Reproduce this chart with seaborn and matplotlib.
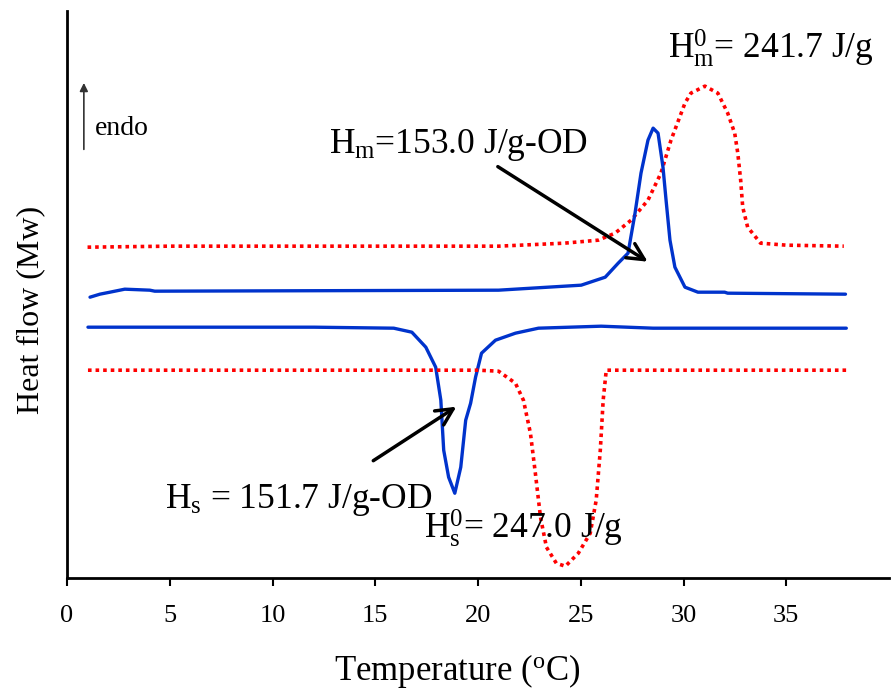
import matplotlib
matplotlib.use('Agg')
import matplotlib.pyplot as plt
import seaborn as sns

# DSC traces (temperature in C, heat flow in arbitrary units)
red_heat_T = [1.0, 5.0, 10.0, 15.0, 21.0, 24.2, 25.85, 26.67, 27.45, 28.27, 28.9,
              29.39, 30.07, 30.36, 31.04, 31.67, 32.15, 32.49, 32.64, 32.78, 32.88,
              33.12, 33.75, 35.0, 37.8]
red_heat_Q = [331, 332, 332, 332, 332, 335, 338, 345, 358, 378, 405,
              438, 475, 485, 492, 485, 465, 445, 425, 398, 371,
              351, 335, 333, 332]

blue_heat_T = [1.12, 1.6, 2.09, 2.81, 4.03, 4.27, 21.0, 22.6, 25.02, 26.19, 26.82,
               27.3, 27.64, 27.93, 28.27, 28.52, 28.76, 29.0, 29.15, 29.34, 29.58,
               30.07, 30.7, 32.0, 32.15, 37.88]
blue_heat_Q = [281, 284, 286, 289, 288, 287, 288, 290, 293, 301, 315,
               325, 365, 405, 438, 450, 445, 411, 378, 338, 311,
               291, 286, 286, 285, 284]

blue_cool_T = [1.02, 12.03, 15.9, 16.78, 17.46, 17.94, 18.19, 18.33, 18.57, 18.87,
               19.16, 19.4, 19.64, 19.88, 20.17, 20.85, 21.82, 22.94, 25.99, 28.52,
               37.92]
blue_cool_Q = [251, 251, 250, 246, 231, 211, 178, 128, 101, 85,
               111, 158, 175, 201, 225, 238, 245, 250, 252, 250,
               250]

red_cool_T = [1.02, 20.03, 21.0, 21.82, 22.21, 22.55, 22.79, 23.04, 23.33, 23.81,
              24.25, 24.88, 25.46, 25.75, 25.95, 26.09, 26.24, 37.92]
red_cool_Q = [208, 208, 207, 195, 178, 145, 105, 61, 31, 15,
              12, 25, 45, 78, 128, 178, 208, 208]

sns.set_style('white')
plt.rcParams['font.family'] = ['Liberation Serif', 'DejaVu Serif']
plt.rcParams['mathtext.fontset'] = 'custom'
plt.rcParams['mathtext.rm'] = 'Liberation Serif'
plt.rcParams['mathtext.it'] = 'Liberation Serif:italic'
plt.rcParams['text.color'] = 'black'
plt.rcParams['axes.labelcolor'] = 'black'
plt.rcParams['xtick.color'] = 'black'

fig = plt.figure(figsize=(8.91, 6.95), dpi=100)
ax = fig.add_axes([0.0752, 0.168, 0.9226, 0.816])

blue = '#0033cc'
red = '#ff0000'
sns.lineplot(x=red_heat_T, y=red_heat_Q, ax=ax, color=red, lw=2.6,
             linestyle=(0, (1, 1.1)), estimator=None)
sns.lineplot(x=blue_heat_T, y=blue_heat_Q, ax=ax, color=blue, lw=2.4,
             estimator=None)
sns.lineplot(x=blue_cool_T, y=blue_cool_Q, ax=ax, color=blue, lw=2.4,
             estimator=None)
sns.lineplot(x=red_cool_T, y=red_cool_Q, ax=ax, color=red, lw=2.6,
             linestyle=(0, (1, 1.1)), estimator=None)

ax.set_xlim(0, 40)
ax.set_ylim(0, 567)
ax.set_xticks(range(0, 40, 5))
ax.set_yticks([])
ax.tick_params(axis='x', direction='out', length=6, width=1.5, labelsize=19,
               pad=13, bottom=True, labelcolor='black')
for s in ['top', 'right']:
    ax.spines[s].set_visible(False)
for s in ['left', 'bottom']:
    ax.spines[s].set_color('black')
    ax.spines[s].set_linewidth(2)

ax.set_xlabel('Temperature ($^{\\mathrm{o}}$C)', fontsize=25)
ax.xaxis.set_label_coords(0.474, -0.13)
ax.set_ylabel('Heat flow (Mw)', fontsize=23)
ax.yaxis.set_label_coords(-0.027, 0.473)

# endo arrow
ax.annotate('', xy=(0.82, 498), xytext=(0.82, 426),
            arrowprops=dict(arrowstyle='-|>', color='#333333', lw=1.2,
                            mutation_scale=12))
ax.text(1.36, 450, 'endo', fontsize=20, va='center', ha='left')

arrow_kw = dict(arrowstyle='->', color='black', lw=2.5, mutation_scale=30)
ax.annotate('', xy=(28.37, 315), xytext=(20.85, 413), arrowprops=arrow_kw)
ax.annotate('', xy=(19.06, 173), xytext=(14.79, 116), arrowprops=arrow_kw)

ax.text(12.75, 425, 'H$_\\mathrm{m}$=153.0 J/g-OD', fontsize=25.5, va='baseline')
ax.text(29.24, 520, 'H$_\\mathrm{m}^\\mathrm{0}$= 241.7 J/g', fontsize=25.5,
        va='baseline')
ax.text(4.75, 70, 'H$_\\mathrm{s}$ = 151.7 J/g-OD', fontsize=25.5, va='baseline')
ax.text(17.36, 40, 'H$_\\mathrm{s}^\\mathrm{0}$= 247.0 J/g', fontsize=25.5,
        va='baseline')

fig.savefig('out.png', dpi=100)
